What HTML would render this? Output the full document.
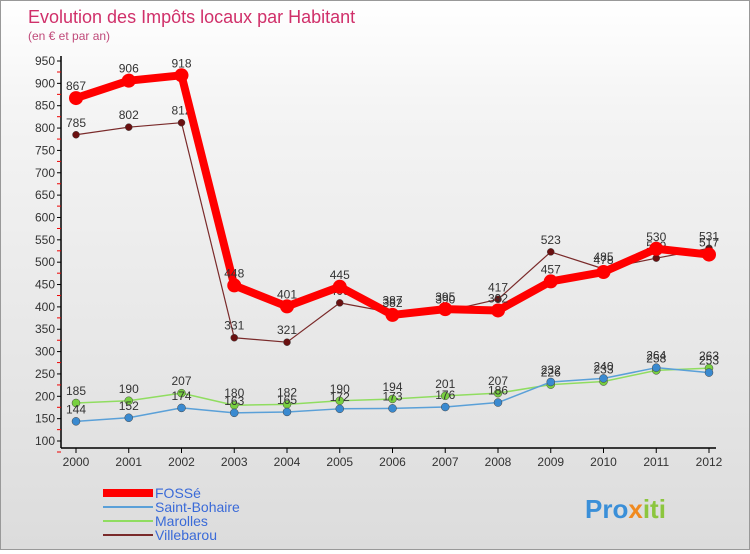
<!DOCTYPE html>
<html><head><meta charset="utf-8"><style>
body{margin:0;width:750px;height:550px;overflow:hidden;font-family:"Liberation Sans",sans-serif;}
#wrap{position:relative;width:748px;height:548px;border:1px solid #999;background:linear-gradient(#fff,#f4f4f4 20%,#dcdcdc);}
</style></head><body>
<div id="wrap">
<svg id="chart" width="748" height="548">
<text x="27" y="22" font-size="18" fill="#d0306a">Evolution des Impôts locaux par Habitant</text>
<text x="27" y="39" font-size="12" fill="#c04a7a">(en € et par an)</text>
<g id="axes"></g><g id="series"></g><g id="legend"></g>
<text x="584" y="517" font-size="26" font-weight="bold" fill="#3a8fd8">Pro<tspan fill="#f08a20">x</tspan><tspan fill="#8cc63e">iti</tspan></text>
</svg></div>
<script>
const years=["2000","2001","2002","2003","2004","2005","2006","2007","2008","2009","2010","2011","2012"];
const yTicks=[100,150,200,250,300,350,400,450,500,550,600,650,700,750,800,850,900,950];
const fosse=[867,906,918,448,401,445,382,395,392,457,478,530,517];
const saintBohaire=[144,152,174,163,165,172,173,176,186,232,240,264,253];
const marolles=[185,190,207,180,182,190,194,201,207,226,233,258,263];
const villebarou=[785,802,812,331,321,409,387,390,417,523,485,509,531];
const NS="http://www.w3.org/2000/svg";
function X(i){return 75+i*52.75;}
function Y(v){return 440-(v-100)*(380/850);}
function mk(tag,attrs,parent,txt){const e=document.createElementNS(NS,tag);for(const k in attrs)e.setAttribute(k,attrs[k]);if(txt!==undefined)e.textContent=txt;parent.appendChild(e);return e;}
const ax=document.getElementById('axes');
let l=mk('line',{x1:60,y1:Y(950)-5,x2:60,y2:447,stroke:'#000','stroke-width':1.5},ax);


l=mk('line',{x1:60,y1:447,x2:715,y2:447,stroke:'#000','stroke-width':1.5},ax);


yTicks.forEach(v=>{const y=Y(v);mk('line',{x1:56,y1:y,x2:60,y2:y,stroke:'#000'},ax);
mk('line',{x1:56,y1:y+11,x2:60,y2:y+11,stroke:'#e00'},ax);
const t=mk('text',{x:54,y:y+4,'font-size':12,'text-anchor':'end',fill:'#333'},ax,v);

});
years.forEach((yr,i)=>{mk('line',{x1:X(i),y1:447,x2:X(i),y2:452,stroke:'#000'},ax);
const t=mk('text',{x:X(i),y:465,'font-size':12,'text-anchor':'middle',fill:'#333'},ax,yr);

});
const sg=document.getElementById('series');
const defs=[
{name:'villebarou',data:villebarou,color:'#7a2a2a',w:1.2,r:3.5,fill:'#6a1010'},
{name:'marolles',data:marolles,color:'#90dd60',w:1.5,r:4,fill:'#78d040'},
{name:'saint-bohaire',data:saintBohaire,color:'#5aa0d8',w:1.5,r:4,fill:'#3a8ad0'},
{name:'fosse',data:fosse,color:'#ff0000',w:8,r:7,fill:'#ff0000'}];
defs.forEach(s=>{const g=mk('g',{},sg);


const p=mk('polyline',{points:s.data.map((v,i)=>X(i)+','+Y(v)).join(' '),fill:'none',stroke:s.color,'stroke-width':s.w,'stroke-linejoin':'round'},g);


s.data.forEach((v,i)=>{const c=mk('circle',{cx:X(i),cy:Y(v),r:s.r,fill:s.fill,stroke:s.w<5?'#444':'none','stroke-width':0.5},g);


const t=mk('text',{x:X(i),y:Y(v)-8,'font-size':12,'text-anchor':'middle',fill:'#333'},g,v);

});});
const lg=document.getElementById('legend');
[['FOSSé','#ff0000',8],['Saint-Bohaire','#5aa0d8',2],['Marolles','#90dd60',2],['Villebarou','#7a2a2a',2]].forEach((e,i)=>{const y=492+i*14;
const g=mk('g',{},lg);


mk('line',{x1:102,y1:y,x2:152,y2:y,stroke:e[1],'stroke-width':e[2]},g);
mk('text',{x:154,y:y+5,'font-size':14,fill:'#3a6ad8'},g,e[0]);});
</script>
</body></html>
